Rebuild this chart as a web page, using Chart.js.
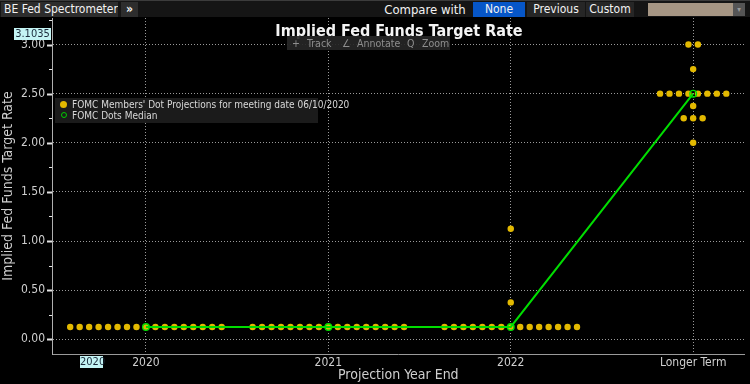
<!DOCTYPE html>
<html>
<head>
<meta charset="utf-8">
<script src="https://cdn.jsdelivr.net/npm/chart.js@4/dist/chart.umd.min.js"></script>
<style>
  html,body{margin:0;padding:0;background:#000;}
  body{width:750px;height:384px;overflow:hidden;position:relative;font-family:"Liberation Sans Narrow","DejaVu Sans Condensed","Arial Narrow",sans-serif;}
  #c{position:absolute;left:0;top:0;}
  .ov{position:absolute;white-space:nowrap;}
  #bar{left:0;top:0;width:750px;height:17px;background:#151515;border-top:1px solid #3c3c3c;box-sizing:border-box;}
  .btn{position:absolute;top:1px;height:15px;line-height:15px;font-size:12px;color:#f2f2f2;text-align:center;overflow:hidden;}
  #title{left:0;width:798px;top:21px;text-align:center;font-weight:bold;font-size:16px;color:#f4f4f4;}
  #tools{left:287px;top:36px;width:163px;height:14px;background:rgba(38,38,38,0.92);font-size:10.5px;line-height:14px;color:#8e8e8e;}
  #tools span{position:absolute;top:0;}
  #legend{left:55px;top:98px;width:263px;height:25px;background:#1b1b1b;font-size:10px;color:#d8d8d8;}
  #legend .row{position:absolute;left:17px;height:11px;line-height:11px;}
  .dot{position:absolute;border-radius:50%;box-sizing:border-box;}
  .cross{background:#c4f4f4;color:#1a2a3a;font-size:11px;line-height:12px;height:12px;text-align:center;}
</style>
</head>
<body>
<canvas id="c" width="750" height="384"></canvas>

<div class="ov" id="bar">
  <div class="btn" style="left:1px;width:117px;background:#2d2d2d;text-align:left;padding-left:3px;box-sizing:border-box;">BE Fed Spectrometer</div>
  <div class="btn" style="left:121px;width:17px;background:#2d2d2d;font-weight:bold;">»</div>
  <div class="btn" style="left:382px;width:86px;font-size:13px;">Compare with</div>
  <div class="btn" style="left:473px;width:52px;background:#0656c8;">None</div>
  <div class="btn" style="left:527px;width:58px;background:#262626;">Previous</div>
  <div class="btn" style="left:586px;width:48px;background:#262626;">Custom</div>
  <div class="btn" style="left:648px;width:85px;top:2px;height:13px;background:#a69684;"></div>
  <div class="btn" style="left:733px;width:12px;top:2px;height:13px;background:#555;color:#999;font-size:8px;line-height:13px;">▾</div>
</div>

<div class="ov" id="title">Implied Fed Funds Target Rate</div>
<div class="ov" id="tools">
  <span style="left:5px;">+</span><span style="left:20px;">Track</span>
  <span style="left:55px;">∠</span><span style="left:70px;">Annotate</span>
  <span style="left:120px;">Q</span><span style="left:135px;">Zoom</span>
</div>

<div class="ov" id="legend">
  <div class="dot" style="left:5px;top:3px;width:7px;height:7px;background:#e3b900;"></div>
  <div class="row" style="top:1px;">FOMC Members' Dot Projections for meeting date 06/10/2020</div>
  <div class="dot" style="left:6px;top:14px;width:6px;height:6px;border:1.3px solid #00cc00;"></div>
  <div class="row" style="top:12px;">FOMC Dots Median</div>
</div>

<div class="ov cross" style="left:14px;top:28px;width:37px;">3.1035</div>
<div class="ov cross" style="left:80px;top:356px;width:23px;">2020</div>

<script>
// ---- data ----
const categories = ['2020', '2021', '2022', 'Longer Term'];
const dots2020 = [0.125, 0.125, 0.125, 0.125, 0.125, 0.125, 0.125, 0.125, 0.125, 0.125, 0.125, 0.125, 0.125, 0.125, 0.125, 0.125, 0.125];
const dots2021 = [0.125, 0.125, 0.125, 0.125, 0.125, 0.125, 0.125, 0.125, 0.125, 0.125, 0.125, 0.125, 0.125, 0.125, 0.125, 0.125, 0.125];
const dots2022 = [0.125, 0.125, 0.125, 0.125, 0.125, 0.125, 0.125, 0.125, 0.125, 0.125, 0.125, 0.125, 0.125, 0.125, 0.125, 0.375, 1.125];
const dotsLongerTerm = [3.0, 3.0, 2.75, 2.5, 2.5, 2.5, 2.5, 2.5, 2.5, 2.5, 2.5, 2.375, 2.25, 2.25, 2.25, 2.0];
const medianValues = [0.125, 0.125, 0.125, 2.5];
const dotSeries = [dots2020, dots2021, dots2022, dotsLongerTerm];

const seriesLabels = ["FOMC Members' Dot Projections for meeting date 06/10/2020", 'FOMC Dots Median'];

// ---- layout helpers ----
const DOT_STEP = 0.0519; // horizontal spacing between equal dots, in category units
function swarm(values, catIndex) {
  const groups = new Map();
  values.forEach(v => groups.set(v, (groups.get(v) || 0) + 1));
  const pts = [];
  groups.forEach((n, v) => {
    for (let i = 0; i < n; i++) pts.push({ x: catIndex + (i - (n - 1) / 2) * DOT_STEP, y: v });
  });
  return pts;
}
const dotPoints = dotSeries.flatMap((vals, i) => swarm(vals, i));
const medianPoints = medianValues.map((v, i) => ({ x: i, y: v }));

const isMajor = v => Math.abs(v * 2 - Math.round(v * 2)) < 1e-6;
const FONT = '"Liberation Sans Narrow","DejaVu Sans Condensed","Arial Narrow",sans-serif';

const tickMarks = {
  id: 'tickMarks',
  afterDraw(chart) {
    const ys = chart.scales.y, ctx = chart.ctx;
    ctx.save();
    ctx.strokeStyle = '#e2e2e2';
    ys.ticks.forEach(t => {
      const py = Math.round(ys.getPixelForValue(t.value)) + 0.5;
      const major = isMajor(t.value);
      ctx.lineWidth = major ? 2 : 1;
      const len = major ? 5 : 3;
      ctx.beginPath();
      ctx.moveTo(ys.right - len, py);
      ctx.lineTo(ys.right, py);
      ctx.stroke();
    });
    ctx.restore();
  }
};

new Chart(document.getElementById('c'), {
  type: 'scatter',
  data: {
    datasets: [
      {
        label: seriesLabels[1],
        type: 'line',
        data: medianPoints,
        order: 0,
        borderColor: '#00dd00',
        borderWidth: 2,
        pointRadius: 3.3,
        pointBackgroundColor: 'rgba(0,0,0,0)',
        pointBorderColor: '#00dd00',
        pointBorderWidth: 1.4,
        tension: 0,
        fill: false
      },
      {
        label: seriesLabels[0],
        data: dotPoints,
        order: 1,
        pointRadius: 3.2,
        pointBackgroundColor: '#e3b900',
        pointBorderWidth: 0,
        borderWidth: 0
      }
    ]
  },
  options: {
    responsive: false,
    animation: false,
    events: [],
    layout: { padding: { top: 18, right: 5, left: 0, bottom: 0 } },
    plugins: { legend: { display: false }, tooltip: { enabled: false }, title: { display: false } },
    scales: {
      x: {
        type: 'linear',
        min: -0.515,
        max: 3.282,
        afterBuildTicks: s => { s.ticks = categories.map((c, i) => ({ value: i })); },
        afterFit: s => { s.height = 30; },
        ticks: {
          autoSkip: false,
          maxRotation: 0,
          padding: 2,
          color: '#cfcfcf',
          font: { family: FONT, size: 12 },
          callback: v => categories[v]
        },
        grid: { color: '#9a9a9a', lineWidth: 1, drawTicks: false },
        border: { display: true, color: '#9a9a9a', width: 1, dash: [1, 2] },
        title: {
          display: true,
          text: 'Projection Year End',
          color: '#cfcfcf',
          font: { family: FONT, size: 14 },
          padding: { top: 0, bottom: 0 }
        }
      },
      y: {
        type: 'linear',
        min: -0.15,
        max: 3.27,
        afterFit: s => { s.width = 52; },
        ticks: {
          stepSize: 0.25,
          includeBounds: false,
          autoSkip: false,
          padding: 7,
          color: '#cfcfcf',
          font: { family: FONT, size: 12 },
          callback: v => isMajor(v) ? v.toFixed(2) : ''
        },
        grid: {
          color: ctx => (ctx.tick && isMajor(ctx.tick.value)) ? '#9a9a9a' : 'rgba(0,0,0,0)',
          lineWidth: 1,
          drawTicks: false
        },
        border: { display: true, color: '#b0b0b0', width: 1, dash: [1, 2] },
        title: {
          display: true,
          text: 'Implied Fed Funds Target Rate',
          color: '#cfcfcf',
          font: { family: FONT, size: 14 },
          padding: { top: 0, bottom: 0 }
        }
      }
    }
  },
  plugins: [tickMarks]
});
</script>
</body>
</html>
